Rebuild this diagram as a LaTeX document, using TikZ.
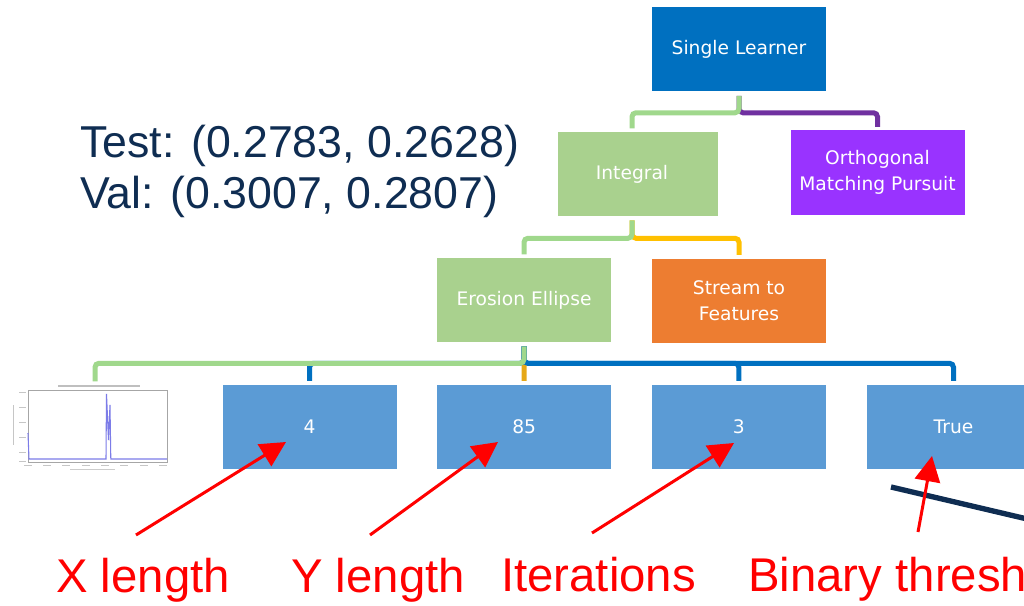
\documentclass[tikz,border=0pt]{standalone}
\usepackage{fontspec}
\setmainfont{Liberation Sans}
\newfontfamily\boxfont{DejaVu Sans}
\usetikzlibrary{arrows.meta,positioning}
\definecolor{slblue}{HTML}{0070C0}
\definecolor{lgreen}{HTML}{A9D18E}
\definecolor{cgreen}{HTML}{A0D88C}
\definecolor{purplebox}{HTML}{9933FF}
\definecolor{purpleline}{HTML}{7030A0}
\definecolor{orangebox}{HTML}{ED7D31}
\definecolor{leafblue}{HTML}{5B9BD5}
\definecolor{goldline}{HTML}{FFC000}
\definecolor{amberline}{HTML}{E6A817}
\definecolor{navy}{HTML}{0F2D52}
\definecolor{wave}{HTML}{7C7CE8}

\begin{document}
\begin{tikzpicture}[x=0.75pt, y=-0.75pt,
    tbox/.style={rectangle, fill=#1, text=white, inner sep=0pt, align=center,
        minimum width=130.5pt, minimum height=63pt,
        font=\boxfont\fontsize{14}{19.5}\selectfont},
    conn/.style={line width=3.75pt, rounded corners=3pt, shorten <=3pt, shorten >=2.5pt},
    redlbl/.style={text=red, anchor=base west, inner sep=0pt, font=\fontsize{35.5}{40}\selectfont},
    score/.style={text=navy, anchor=base west, inner sep=0pt, font=\fontsize{33.5}{40}\selectfont},
    redarr/.style={red, line width=2.25pt, -{Triangle[length=19pt,width=19pt]}}]
    \useasboundingbox (0,0) rectangle (1024,606);
    \clip (0,0) rectangle (1024,606);

    % tree boxes
    \node[tbox=slblue] (SL) at (739,49.5) {Single Learner};
    \node[tbox=lgreen, minimum width=120pt] (integral) at (638,174) {\hspace*{-9pt}Integral};
    \node[tbox=purplebox] (omp) at (877.5,172.5) {Orthogonal\\Matching Pursuit};
    \node[tbox=lgreen] (erosion) at (524,300) {Erosion Ellipse};
    \node[tbox=orangebox] (stream) at (739,300.5) {Stream to\\Features};

    % parameter row
    \node[tbox=leafblue] (b4) at (309.5,426.5) {4};
    \node[tbox=leafblue, right of=b4, node distance=161pt] (b85) {85};
    \node[tbox=leafblue, right of=b85, node distance=161pt] (b3) {3};
    \node[tbox=leafblue, right of=b3, node distance=161pt] (btrue) {True};

    % waveform thumbnail
    \node[rectangle, fill=white, inner sep=0pt, minimum width=127.5pt, minimum height=61.5pt] (plot) at (95,426) {};
    \draw[gray!70, line width=0.4pt] (28,390) rectangle (167,462);
    \draw[gray!50, line width=0.8pt] (58,386) -- (140,386);
    \draw[gray!45, line width=0.6pt] (13,405) -- (13,445);
    \foreach \yy in {392,407,422,437,452,461}
        \draw[gray!45, line width=0.6pt] (19,\yy) -- (26,\yy);
    \foreach \xx in {28,47,66,86,105,124,144,163}
        \draw[gray!45, line width=0.6pt] (\xx-4,465.5) -- (\xx+4,465.5);
    \draw[gray!40, line width=0.6pt] (70,469) -- (115,469);
    \draw[wave, line width=0.8pt] (28,433) -- (29,459) -- (106,459) -- (106.5,394)
        -- (108.5,440) -- (110,405) -- (110.8,459) -- (167,459);

    % connectors
    \draw[conn, purpleline] (SL.south) -- ++(0,21) -| (omp.north);
    \draw[conn, cgreen] (SL.south) -- ++(0,21) -| ([xshift=-4.5pt]integral.north);
    \draw[conn, goldline] ([xshift=-4.5pt]integral.south) -- ++(0,22) -| (stream.north);
    \draw[conn, cgreen] ([xshift=-4.5pt]integral.south) -- ++(0,22) -| (erosion.north);
    \draw[conn, amberline] (erosion.south) -- (b85.north);
    \draw[conn, slblue] (erosion.south) -- ++(0,21) -| (b4.north);
    \draw[conn, slblue] (erosion.south) -- ++(0,21) -| (b3.north);
    \draw[conn, slblue] (erosion.south) -- ++(0,21) -| (btrue.north);
    \draw[conn, cgreen] (erosion.south) -- ++(0,21) -| (plot.north);

    % scores
    \node[score] (test) at (80,158) {Test: (0.2783, 0.2628)};
    \node[score] (val) at (80,209) {Val: (0.3007, 0.2807)};

    % parameter names
    \node[redlbl] (xlen) at (56,592) {X length};
    \node[redlbl] (ylen) at (291,592) {Y length};
    \node[redlbl] (iter) at (501,591) {Iterations};
    \node[redlbl] (binthr) at (748,591) {Binary thresh};

    \coordinate (xtail) at (136,535);
    \coordinate (xtip) at (286,442);
    \coordinate (ytail) at (370,535);
    \coordinate (ytip) at (498,442);
    \coordinate (itail) at (592,533);
    \coordinate (itip) at (734,443);
    \coordinate (btail) at (918,532);
    \coordinate (btip) at (932,456);
    \coordinate (s1) at (891,487);
    \coordinate (s2) at (1040,522);

    \draw[navy, line width=4pt] (s1) -- (s2);
    \draw[redarr] (xtail) -- (xtip);
    \draw[redarr] (ytail) -- (ytip);
    \draw[redarr] (itail) -- (itip);
    \draw[redarr] (btail) -- (btip);
\end{tikzpicture}
\end{document}
